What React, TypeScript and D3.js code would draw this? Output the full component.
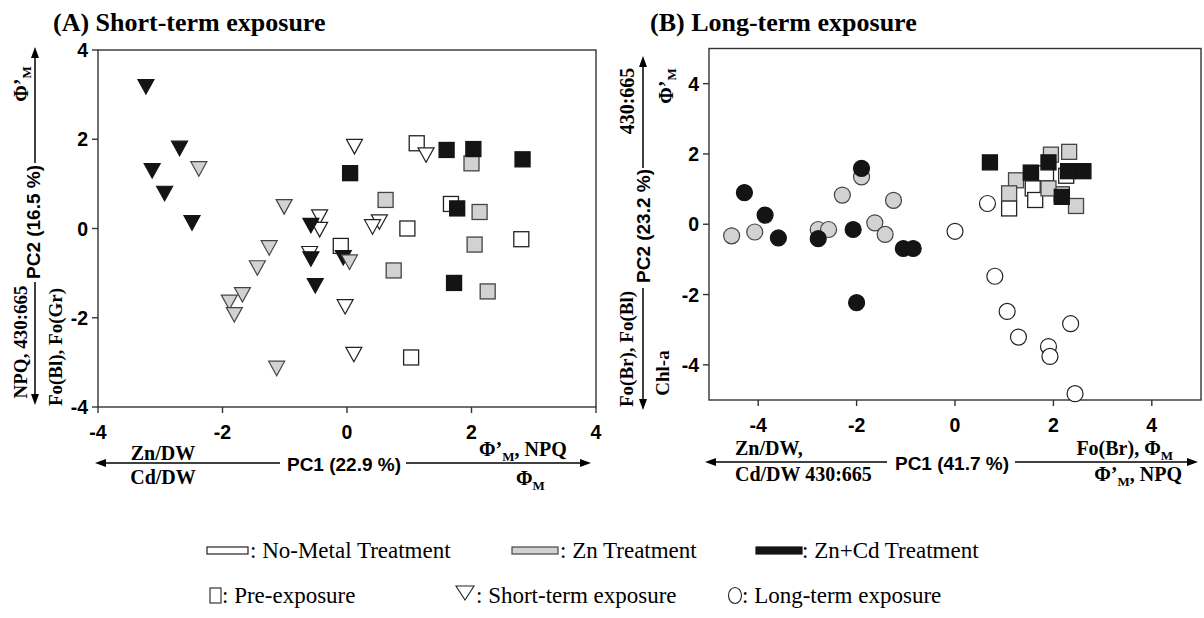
import React from 'react';
import * as d3 from 'd3';

// ---------- Data (PC1, PC2) ----------
// Panel A: short-term exposure
const aPreNoMetal = [[1.12, 1.91], [1.67, 0.55], [0.97, 0.0], [-0.1, -0.39], [2.8, -0.24], [1.03, -2.89]];
const aPreZn = [[2.0, 1.46], [0.62, 0.64], [2.13, 0.37], [2.05, -0.36], [0.75, -0.94], [2.26, -1.41]];
const aPreZnCd = [[1.6, 1.76], [2.03, 1.78], [2.82, 1.55], [0.05, 1.24], [1.77, 0.45], [1.72, -1.22]];
const aShortNoMetal = [[0.12, 1.84], [1.27, 1.65], [-0.44, 0.26], [-0.44, -0.02], [0.52, 0.15], [0.41, 0.04], [-0.6, -0.56], [-0.03, -1.75], [0.11, -2.82]];
const aShortZn = [[-2.38, 1.34], [-1.01, 0.49], [-1.25, -0.43], [-1.44, -0.88], [-1.68, -1.48], [-1.89, -1.65], [-1.81, -1.93], [-1.13, -3.13], [0.04, -0.75]];
const aShortZnCd = [[-3.23, 3.18], [-2.69, 1.8], [-3.13, 1.3], [-2.93, 0.79], [-2.49, 0.13], [-0.58, 0.07], [-0.58, -0.68], [-0.06, -0.65], [-0.51, -1.28]];

// Panel B: long-term exposure
const bPreNoMetal = [[2.26, 1.38], [1.85, 1.45], [1.58, 1.02], [1.63, 0.69], [2.17, 0.85], [1.1, 0.45]];
const bPreZn = [[1.95, 1.98], [2.32, 2.06], [1.24, 1.25], [1.9, 1.02], [1.1, 0.88], [2.46, 0.52]];
const bPreZnCd = [[0.71, 1.76], [1.9, 1.76], [1.54, 1.47], [2.3, 1.51], [2.61, 1.51], [2.17, 0.78]];
const bLongNoMetal = [[0.0, -0.2], [0.66, 0.59], [0.81, -1.48], [1.06, -2.48], [1.29, -3.21], [1.9, -3.48], [1.93, -3.76], [2.35, -2.83], [2.44, -4.82]];
const bLongZn = [[-4.54, -0.33], [-4.07, -0.22], [-2.78, -0.15], [-2.57, -0.15], [-2.29, 0.83], [-1.9, 1.35], [-1.63, 0.04], [-1.42, -0.29], [-1.25, 0.68]];
const bLongZnCd = [[-4.28, 0.9], [-3.86, 0.26], [-3.59, -0.39], [-2.78, -0.41], [-2.07, -0.15], [-1.9, 1.59], [-1.05, -0.69], [-0.85, -0.69], [-2.0, -2.23]];

const aTicks = [-4, -2, 0, 2, 4];
const bTicks = [-4, -2, 0, 2, 4];

const legendTreatments = [': No-Metal Treatment', ' : Zn Treatment', ' : Zn+Cd Treatment'];
const legendPhases = [': Pre-exposure', ': Short-term exposure', ': Long-term exposure'];

// ---------- Styles ----------
const SERIF = '"Liberation Serif", "Times New Roman", serif';
const SANS = '"Liberation Sans", Arial, sans-serif';
const FILL = { none: '#ffffff', zn: '#d2d2d2', zncd: '#141414' };
const STROKE = { none: '#222', zn: '#444', zncd: '#141414' };

const xA = d3.scaleLinear().domain([-4, 4]).range([98, 596]);
const yA = d3.scaleLinear().domain([-4, 4]).range([407, 50]);
const xB = d3.scaleLinear().domain([-5, 5]).range([709, 1201]);
const yB = d3.scaleLinear().domain([-5, 5]).range([400, 48.5]);

type Pt = number[];

function Squares({ data, x, y, t }: { data: Pt[]; x: any; y: any; t: 'none' | 'zn' | 'zncd' }) {
  return (
    <g>
      {data.map((d, i) => (
        <rect key={i} x={x(d[0]) - 7.5} y={y(d[1]) - 7.5} width={15} height={15}
          fill={FILL[t]} stroke={STROKE[t]} strokeWidth={1.3} />
      ))}
    </g>
  );
}

function Triangles({ data, x, y, t }: { data: Pt[]; x: any; y: any; t: 'none' | 'zn' | 'zncd' }) {
  return (
    <g>
      {data.map((d, i) => {
        const cx = x(d[0]);
        const cy = y(d[1]);
        const p = `${cx - 8},${cy - 7} ${cx + 8},${cy - 7} ${cx},${cy + 7.5}`;
        return <polygon key={i} points={p} fill={FILL[t]} stroke={STROKE[t]} strokeWidth={1.2} strokeLinejoin="miter" />;
      })}
    </g>
  );
}

function Circles({ data, x, y, t }: { data: Pt[]; x: any; y: any; t: 'none' | 'zn' | 'zncd' }) {
  return (
    <g>
      {data.map((d, i) => (
        <circle key={i} cx={x(d[0])} cy={y(d[1])} r={8}
          fill={FILL[t]} stroke={STROKE[t]} strokeWidth={1.2} />
      ))}
    </g>
  );
}

function Frame({ x, y, ticks, labelDy }: { x: any; y: any; ticks: number[]; labelDy: number }) {
  const [x0, x1] = x.range();
  const [y0, y1] = y.range();
  return (
    <g>
      <rect x={x0} y={y1} width={x1 - x0} height={y0 - y1} fill="none" stroke="#333" strokeWidth={1.4} />
      {ticks.map((t) => (
        <g key={'x' + t}>
          <line x1={x(t)} x2={x(t)} y1={y0} y2={y0 + 6} stroke="#333" strokeWidth={1.4} />
          <text x={x(t)} y={y0 + labelDy} textAnchor="middle" fontFamily={SANS} fontWeight="bold" fontSize={19.5}>{t}</text>
        </g>
      ))}
      {ticks.map((t) => (
        <g key={'y' + t}>
          <line x1={x0 - 6} x2={x0} y1={y(t)} y2={y(t)} stroke="#333" strokeWidth={1.4} />
          <text x={x0 - 10} y={y(t) + 7} textAnchor="end" fontFamily={SANS} fontWeight="bold" fontSize={19.5}>{t}</text>
        </g>
      ))}
    </g>
  );
}

function VArrow({ x, y1, y2, dir }: { x: number; y1: number; y2: number; dir: 'up' | 'down' }) {
  const tip = y2;
  const head = dir === 'up'
    ? `${x},${tip} ${x - 4},${tip + 11} ${x + 4},${tip + 11}`
    : `${x},${tip} ${x - 4},${tip - 11} ${x + 4},${tip - 11}`;
  return (
    <g>
      <line x1={x} x2={x} y1={y1} y2={dir === 'up' ? tip + 8 : tip - 8} stroke="#000" strokeWidth={1.5} />
      <polygon points={head} fill="#000" />
    </g>
  );
}

function HArrow({ y, x1, x2, dir }: { y: number; x1: number; x2: number; dir: 'left' | 'right' }) {
  const tip = x2;
  const head = dir === 'left'
    ? `${tip},${y} ${tip + 11},${y - 4} ${tip + 11},${y + 4}`
    : `${tip},${y} ${tip - 11},${y - 4} ${tip - 11},${y + 4}`;
  return (
    <g>
      <line x1={x1} x2={dir === 'left' ? tip + 8 : tip - 8} y1={y} y2={y} stroke="#000" strokeWidth={1.5} />
      <polygon points={head} fill="#000" />
    </g>
  );
}

function RotText({ x, y, size, family, children }: any) {
  return (
    <text transform={`translate(${x},${y}) rotate(-90)`} textAnchor="middle" dominantBaseline="central"
      fontFamily={family} fontWeight="bold" fontSize={size}>{children}</text>
  );
}

const PhiPrimeM = () => (
  <>
    <tspan>Φ’</tspan>
    <tspan fontSize={13} dy={5}>M</tspan>
  </>
);

export default function App() {
  return (
    <svg width={1204} height={618} style={{ position: 'absolute', left: 0, top: 0, background: '#fff' }}>
      <rect width={1204} height={618} fill="#fff" />

      {/* Titles */}
      <text x={53} y={31} fontFamily={SERIF} fontWeight="bold" fontSize={26}>(A) Short-term exposure</text>
      <text x={650} y={31} fontFamily={SERIF} fontWeight="bold" fontSize={26}>(B) Long-term exposure</text>

      {/* Panel A */}
      <Frame x={xA} y={yA} ticks={aTicks} labelDy={32} />
      <Squares data={aPreNoMetal} x={xA} y={yA} t="none" />
      <Squares data={aPreZn} x={xA} y={yA} t="zn" />
      <Squares data={aPreZnCd} x={xA} y={yA} t="zncd" />
      <Triangles data={aShortNoMetal} x={xA} y={yA} t="none" />
      <Triangles data={aShortZnCd} x={xA} y={yA} t="zncd" />
      <Triangles data={aShortZn} x={xA} y={yA} t="zn" />

      {/* Panel B */}
      <Frame x={xB} y={yB} ticks={bTicks} labelDy={32} />
      <Squares data={bPreNoMetal} x={xB} y={yB} t="none" />
      <Squares data={bPreZn} x={xB} y={yB} t="zn" />
      <Squares data={bPreZnCd} x={xB} y={yB} t="zncd" />
      <Circles data={bLongNoMetal} x={xB} y={yB} t="none" />
      <Circles data={bLongZn} x={xB} y={yB} t="zn" />
      <Circles data={bLongZnCd} x={xB} y={yB} t="zncd" />

      {/* Panel A y-axis annotation */}
      <VArrow x={35} y1={163} y2={47} dir="up" />
      <VArrow x={35} y1={282} y2={405} dir="down" />
      <RotText x={33} y={222} size={19} family={SANS}>PC2 (16.5 %)</RotText>
      <RotText x={21} y={84} size={20} family={SERIF}><PhiPrimeM /></RotText>
      <RotText x={20} y={342} size={19} family={SERIF}>NPQ, 430:665</RotText>
      <RotText x={55} y={347} size={19} family={SERIF}>Fo(Bl), Fo(Gr)</RotText>

      {/* Panel A x-axis annotation */}
      <HArrow y={463} x1={280} x2={95} dir="left" />
      <HArrow y={463} x1={406} x2={591} dir="right" />
      <text x={344} y={471} textAnchor="middle" fontFamily={SANS} fontWeight="bold" fontSize={19}>PC1 (22.9 %)</text>
      <text x={163} y={460} textAnchor="middle" fontFamily={SERIF} fontWeight="bold" fontSize={20}>Zn/DW</text>
      <text x={163} y={484} textAnchor="middle" fontFamily={SERIF} fontWeight="bold" fontSize={20}>Cd/DW</text>
      <text x={479} y={456} fontFamily={SERIF} fontWeight="bold" fontSize={20}>
        <PhiPrimeM /><tspan dy={-5}>, NPQ</tspan>
      </text>
      <text x={516} y={485} fontFamily={SERIF} fontWeight="bold" fontSize={20}>
        <tspan>Φ</tspan><tspan fontSize={13} dy={5}>M</tspan>
      </text>

      {/* Panel B y-axis annotation */}
      <VArrow x={643} y1={168} y2={56} dir="up" />
      <VArrow x={643} y1={288} y2={410} dir="down" />
      <RotText x={643} y={226} size={19} family={SANS}>PC2 (23.2 %)</RotText>
      <RotText x={627} y={101} size={20} family={SERIF}>430:665</RotText>
      <RotText x={666} y={86} size={20} family={SERIF}><PhiPrimeM /></RotText>
      <RotText x={626} y={349} size={19} family={SERIF}>Fo(Br), Fo(Bl)</RotText>
      <RotText x={662} y={373} size={19} family={SERIF}>Chl-a</RotText>

      {/* Panel B x-axis annotation */}
      <HArrow y={462} x1={887} x2={705} dir="left" />
      <HArrow y={462} x1={1015} x2={1198} dir="right" />
      <text x={952} y={470} textAnchor="middle" fontFamily={SANS} fontWeight="bold" fontSize={19}>PC1 (41.7 %)</text>
      <text x={735} y={455} fontFamily={SERIF} fontWeight="bold" fontSize={20}>Zn/DW,</text>
      <text x={735} y={481} fontFamily={SERIF} fontWeight="bold" fontSize={20}>Cd/DW 430:665</text>
      <text x={1173} y={455} textAnchor="end" fontFamily={SERIF} fontWeight="bold" fontSize={20}>
        <tspan>Fo(Br), Φ</tspan><tspan fontSize={13} dy={5}>M</tspan>
      </text>
      <text x={1182} y={481} textAnchor="end" fontFamily={SERIF} fontWeight="bold" fontSize={20}>
        <PhiPrimeM /><tspan dy={-5}>, NPQ</tspan>
      </text>

      {/* Legend row 1 */}
      <rect x={207} y={547} width={41} height={7} fill={FILL.none} stroke="#222" strokeWidth={1.2} />
      <text x={250} y={558} fontFamily={SERIF} fontSize={23}>{legendTreatments[0]}</text>
      <rect x={512} y={547} width={46} height={7} fill={FILL.zn} stroke="#444" strokeWidth={1.2} />
      <text x={560} y={558} fontFamily={SERIF} fontSize={23}>{legendTreatments[1]}</text>
      <rect x={756} y={547} width={46} height={7} fill={FILL.zncd} stroke="#141414" strokeWidth={1.2} />
      <text x={802} y={558} fontFamily={SERIF} fontSize={23}>{legendTreatments[2]}</text>

      {/* Legend row 2 */}
      <rect x={210} y={588} width={11} height={15} fill="#fff" stroke="#222" strokeWidth={1.1} />
      <text x={222} y={603} fontFamily={SERIF} fontSize={23}>{legendPhases[0]}</text>
      <polygon points="456,586 474,586 465,600" fill="#fff" stroke="#222" strokeWidth={1.1} />
      <text x={476} y={603} fontFamily={SERIF} fontSize={23}>{legendPhases[1]}</text>
      <ellipse cx={735} cy={595.5} rx={6.5} ry={8} fill="#fff" stroke="#222" strokeWidth={1.1} />
      <text x={742} y={603} fontFamily={SERIF} fontSize={23}>{legendPhases[2]}</text>
    </svg>
  );
}
